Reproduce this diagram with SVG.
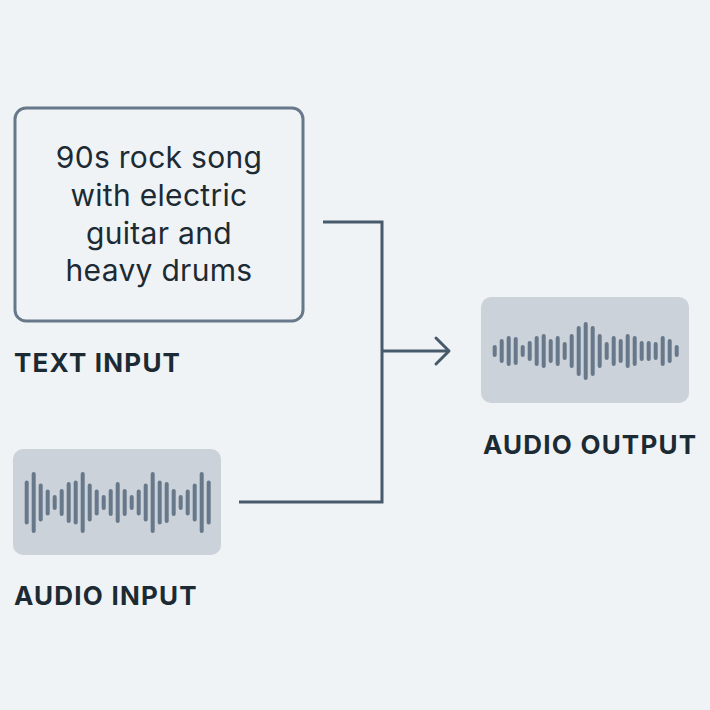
<svg xmlns="http://www.w3.org/2000/svg" width="710" height="710" viewBox="0 0 710 710">
<style>
.bg{fill:#f0f3f6}
.body{font-family:Inter,"Open Sans","Liberation Sans",sans-serif;font-size:30px;letter-spacing:0.3px;fill:#1c2b33;text-anchor:middle}
.lbl{font-family:Inter,"Liberation Sans",sans-serif;font-size:26px;font-weight:700;letter-spacing:1.2px;fill:#1c2b33}
.wbox{fill:#cbd2d9}
.bars line{stroke:#66788a;stroke-width:4;stroke-linecap:round}
.conn{fill:none;stroke:#465a6b;stroke-width:3}
</style>
<rect class="bg" x="0" y="0" width="710" height="710"/>
<g id="text-input">
<rect x="15" y="108" width="288" height="213" rx="11" fill="none" stroke="#67788a" stroke-width="3"/>
<text class="body" x="159" y="168">90s rock song</text>
<text class="body" x="159" y="206">with electric</text>
<text class="body" x="159" y="244">guitar and</text>
<text class="body" x="159" y="281">heavy drums</text>
<text class="lbl" x="14" y="372">TEXT INPUT</text>
</g>
<g id="audio-input">
<rect class="wbox" x="13" y="449" width="208" height="106" rx="10"/>
<g class="bars">
<line x1="26.7" y1="482.5" x2="26.7" y2="522.5"/>
<line x1="33.7" y1="474" x2="33.7" y2="531"/>
<line x1="40.7" y1="485.5" x2="40.7" y2="519.5"/>
<line x1="47.7" y1="491.5" x2="47.7" y2="513.5"/>
<line x1="54.7" y1="497" x2="54.7" y2="508"/>
<line x1="61.7" y1="491" x2="61.7" y2="514"/>
<line x1="68.7" y1="484" x2="68.7" y2="521"/>
<line x1="75.7" y1="482.5" x2="75.7" y2="522.5"/>
<line x1="82.7" y1="474" x2="82.7" y2="531"/>
<line x1="89.7" y1="485.5" x2="89.7" y2="519.5"/>
<line x1="96.7" y1="491.5" x2="96.7" y2="513.5"/>
<line x1="103.7" y1="497" x2="103.7" y2="508"/>
<line x1="110.7" y1="491" x2="110.7" y2="514"/>
<line x1="117.7" y1="484" x2="117.7" y2="521"/>
<line x1="124.7" y1="491" x2="124.7" y2="514"/>
<line x1="131.7" y1="497" x2="131.7" y2="508"/>
<line x1="138.7" y1="491.5" x2="138.7" y2="513.5"/>
<line x1="145.7" y1="485.5" x2="145.7" y2="519.5"/>
<line x1="152.7" y1="474" x2="152.7" y2="531"/>
<line x1="159.7" y1="482.5" x2="159.7" y2="522.5"/>
<line x1="166.7" y1="484" x2="166.7" y2="521"/>
<line x1="173.7" y1="491" x2="173.7" y2="514"/>
<line x1="180.7" y1="497" x2="180.7" y2="508"/>
<line x1="187.7" y1="491.5" x2="187.7" y2="513.5"/>
<line x1="194.7" y1="485.5" x2="194.7" y2="519.5"/>
<line x1="201.7" y1="474" x2="201.7" y2="531"/>
<line x1="208.7" y1="482.5" x2="208.7" y2="522.5"/>
</g>
<text class="lbl" x="14" y="605">AUDIO INPUT</text>
</g>
<g id="audio-output">
<rect class="wbox" x="481" y="297" width="208" height="106" rx="10"/>
<g class="bars">
<line x1="494.7" y1="347" x2="494.7" y2="355"/>
<line x1="501.7" y1="341" x2="501.7" y2="361"/>
<line x1="508.7" y1="338" x2="508.7" y2="364"/>
<line x1="515.7" y1="339" x2="515.7" y2="363"/>
<line x1="522.7" y1="347" x2="522.7" y2="355"/>
<line x1="529.7" y1="343" x2="529.7" y2="359"/>
<line x1="536.7" y1="338" x2="536.7" y2="364"/>
<line x1="543.7" y1="336" x2="543.7" y2="366"/>
<line x1="550.7" y1="341" x2="550.7" y2="361"/>
<line x1="557.7" y1="338" x2="557.7" y2="364"/>
<line x1="564.7" y1="344" x2="564.7" y2="358"/>
<line x1="571.7" y1="336" x2="571.7" y2="366"/>
<line x1="578.7" y1="328" x2="578.7" y2="374"/>
<line x1="585.7" y1="324" x2="585.7" y2="378"/>
<line x1="592.7" y1="328" x2="592.7" y2="374"/>
<line x1="599.7" y1="336" x2="599.7" y2="366"/>
<line x1="606.7" y1="344" x2="606.7" y2="358"/>
<line x1="613.7" y1="338" x2="613.7" y2="364"/>
<line x1="620.7" y1="341" x2="620.7" y2="361"/>
<line x1="627.7" y1="336" x2="627.7" y2="366"/>
<line x1="634.7" y1="338" x2="634.7" y2="364"/>
<line x1="641.7" y1="343" x2="641.7" y2="359"/>
<line x1="648.7" y1="343" x2="648.7" y2="359"/>
<line x1="655.7" y1="344" x2="655.7" y2="358"/>
<line x1="662.7" y1="338" x2="662.7" y2="364"/>
<line x1="669.7" y1="341" x2="669.7" y2="361"/>
<line x1="676.7" y1="347" x2="676.7" y2="355"/>
</g>
<text class="lbl" x="483" y="454">AUDIO OUTPUT</text>
</g>
<g id="connectors">
<polyline class="conn" points="323,222 382,222 382,502 239,502"/>
<line class="conn" x1="382" y1="351" x2="449" y2="351"/>
<polyline class="conn" points="436,338 449,351 436,364" stroke-linecap="round" stroke-linejoin="round"/>
</g>
</svg>
